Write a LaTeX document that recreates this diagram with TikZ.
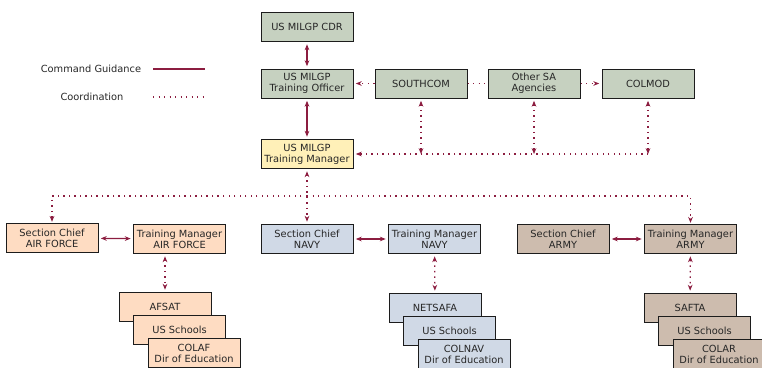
\documentclass[tikz,border=0pt]{standalone}
\usepackage{fontspec}
\setsansfont{DejaVu Sans}
\usepackage{tikz}
\usepackage{xcolor}
\usetikzlibrary{arrows.meta, positioning, calc}
\definecolor{LinkInk}{HTML}{8C1D40}
\definecolor{BoxInk}{HTML}{1C1C1C}
\definecolor{TextInk}{HTML}{262626}
\definecolor{HqFill}{HTML}{C6D1C0}
\definecolor{MgrFill}{HTML}{FFF0B8}
\definecolor{AfFill}{HTML}{FEDCC2}
\definecolor{NavyFill}{HTML}{D0D9E6}
\definecolor{ArmyFill}{HTML}{CDBCAE}

\begin{document}
\begin{tikzpicture}[x=0.03cm, y=-0.03cm,
  font=\sffamily\fontsize{8.4}{9.3}\selectfont, text=TextInk,
  box/.style={draw=BoxInk, line width=0.85pt, minimum width=2.76cm,
    minimum height=0.87cm, align=center, inner sep=1pt},
  cmd/.style={draw=LinkInk, line width=1.1pt},
  coord/.style={draw=LinkInk, line width=1.15pt,
    dash pattern=on 1.2pt off 3.5pt},
  both/.style={{Stealth[length=5pt,width=4pt]}-{Stealth[length=5pt,width=4pt]},
    shorten <=2pt, shorten >=2pt},
  one/.style={-{Stealth[length=5pt,width=4pt]}, shorten >=2pt},
  down/.style={-{Stealth[length=5pt,width=4pt]}, shorten >=1pt}]
\useasboundingbox (0,0) rectangle (762,368);
\def\rowB{239}
\def\sx{14.5}

% legend
\node (lgcmd) at (91,69) {Command Guidance};
\node (lgco) at (92,97) {Coordination};
\coordinate (lgcmdA) at (153,69);
\coordinate (lgcmdB) at (205,69);
\coordinate (lgcoA) at (153,97);
\coordinate (lgcoB) at (205,97);
\draw[cmd] (lgcmdA) -- (lgcmdB);
\draw[coord] (lgcoA) -- (lgcoB);

% top
\node[box, fill=HqFill] (cdr) at (307,27) {US MILGP CDR};
\node[box, fill=HqFill] (officer) at (307,83.5) {US MILGP\\Training Officer};
\node[box, fill=MgrFill] (manager) at (307,154) {US MILGP\\Training Manager};
\node[box, fill=HqFill] (southcom) at (421,83.5) {SOUTHCOM};
\node[box, fill=HqFill] (othersa) at (534,83.5) {Other SA\\Agencies};
\node[box, fill=HqFill] (colmod) at (648,83.5) {COLMOD};

\draw[cmd, both] (cdr) -- (officer);
\draw[cmd, both] (officer) -- (manager);
\draw[coord, one] (southcom) -- (officer);
\draw[coord] (southcom) -- (othersa);
\draw[coord, one] (othersa) -- (colmod);

\coordinate (busR) at (colmod |- manager);
\draw[coord, one] (busR) -- (manager.east);
\foreach \n in {southcom, othersa, colmod}
  \draw[coord, {Stealth[length=5pt,width=4pt]}-{Stealth[length=5pt,width=4pt]},
    shorten <=2pt] (\n.south) -- (\n |- manager);

% services
\node[box, fill=AfFill] (scaf) at (52,238) {Section Chief\\AIR FORCE};
\node[box, fill=AfFill] (tmaf) at (179.5,239) {Training Manager\\AIR FORCE};
\node[box, fill=NavyFill] (scnavy) at (307,\rowB) {Section Chief\\NAVY};
\node[box, fill=NavyFill] (tmnavy) at (434.5,\rowB) {Training Manager\\NAVY};
\node[box, fill=ArmyFill] (scarmy) at (563,\rowB) {Section Chief\\ARMY};
\node[box, fill=ArmyFill] (tmarmy) at (690.5,\rowB) {Training Manager\\ARMY};

\coordinate (split) at (307,196);
\draw[coord, both] (manager) -- (scnavy);
\draw[coord, down] (split) -| (scaf.north);
\draw[coord, down] (split) -| (tmarmy.north);

\draw[cmd, both] (scaf) -- (tmaf);
\draw[cmd, both] (scnavy) -- (tmnavy);
\draw[cmd, both] (scarmy) -- (tmarmy);

% schools
\node[box, fill=AfFill] (afsat) at (165,307) {AFSAT};
\node[box, fill=AfFill] (afus) at (165+\sx,330) {US Schools};
\node[box, fill=AfFill] (colaf) at (165+2*\sx,353) {COLAF\\Dir of Education};

\node[box, fill=NavyFill] (netsafa) at (435,308) {NETSAFA};
\node[box, fill=NavyFill] (navyus) at (435+\sx,331) {US Schools};
\node[box, fill=NavyFill] (colnav) at (435+2*\sx,354) {COLNAV\\Dir of Education};

\node[box, fill=ArmyFill] (safta) at (690,308) {SAFTA};
\node[box, fill=ArmyFill] (armyus) at (690+\sx,331) {US Schools};
\node[box, fill=ArmyFill] (colar) at (690+2*\sx,354) {COLAR\\Dir of Education};

\draw[coord, both] (afsat.north |- tmaf.south) -- (afsat.north);
\draw[coord, both] (tmnavy) -- (netsafa);
\draw[coord, both] (tmarmy) -- (safta);
\end{tikzpicture}
\end{document}
